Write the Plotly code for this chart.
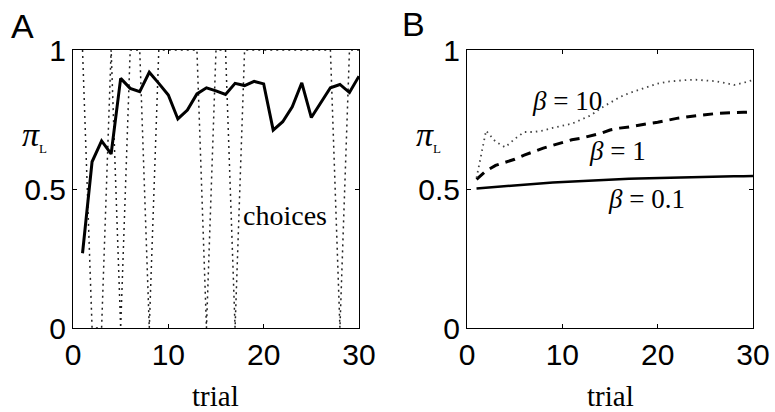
import plotly.graph_objects as go

trials = list(range(1, 31))

# Panel A: probability of choosing L and the choices made (1 = L, 0 = R)
pi_L_A = [0.269, 0.598, 0.673, 0.626, 0.898, 0.862, 0.850, 0.920, 0.880, 0.838,
          0.752, 0.784, 0.842, 0.864, 0.853, 0.840, 0.880, 0.872, 0.887, 0.878,
          0.712, 0.742, 0.796, 0.882, 0.757, 0.811, 0.864, 0.876, 0.847, 0.906]
choices = [1, 0, 0, 1, 0, 1, 1, 0, 1, 1,
           1, 1, 1, 0, 1, 1, 0, 1, 1, 1,
           1, 1, 1, 1, 1, 1, 1, 0, 1, 1]

# Panel B: average pi_L for three values of beta
beta_01 = [0.502, 0.505, 0.508, 0.511, 0.514, 0.516, 0.519, 0.521, 0.523, 0.525,
           0.527, 0.529, 0.531, 0.533, 0.535, 0.536, 0.537, 0.538, 0.539, 0.540,
           0.541, 0.542, 0.543, 0.543, 0.544, 0.545, 0.545, 0.546, 0.546, 0.547]
beta_1 = [0.535, 0.565, 0.585, 0.596, 0.607, 0.622, 0.635, 0.647, 0.657, 0.667,
          0.677, 0.683, 0.692, 0.700, 0.712, 0.719, 0.723, 0.730, 0.735, 0.740,
          0.748, 0.754, 0.759, 0.762, 0.767, 0.771, 0.774, 0.775, 0.776, 0.777]
beta_10 = [0.540, 0.710, 0.670, 0.650, 0.680, 0.705, 0.705, 0.710, 0.720, 0.728,
           0.735, 0.750, 0.765, 0.790, 0.810, 0.830, 0.845, 0.856, 0.868, 0.879,
           0.886, 0.890, 0.892, 0.893, 0.891, 0.888, 0.882, 0.874, 0.882, 0.892]

x_ticks = [0, 10, 20, 30]
y_ticks = [0, 0.5, 1]
y_tick_labels = ["0", "0.5", "1"]

W, H = 775, 412
dom_A = [73 / W, 359 / W]
dom_B = [467 / W, 753 / W]
dom_y = [1 - 328 / H, 1 - 50 / H]

SANS = "Liberation Sans, Arial, sans-serif"
SERIF = "Liberation Serif, Times New Roman, serif"

fig = go.Figure()

fig.add_trace(go.Scatter(x=trials, y=choices, mode="lines",
                         line=dict(color="#222222", width=1.5, dash="2px,4px"),
                         xaxis="x", yaxis="y", showlegend=False))
fig.add_trace(go.Scatter(x=trials, y=pi_L_A, mode="lines",
                         line=dict(color="black", width=3),
                         xaxis="x", yaxis="y", showlegend=False))

fig.add_trace(go.Scatter(x=trials, y=beta_01, mode="lines",
                         line=dict(color="black", width=2.5),
                         xaxis="x2", yaxis="y2", showlegend=False))
fig.add_trace(go.Scatter(x=trials, y=beta_1, mode="lines",
                         line=dict(color="black", width=3, dash="10px,7px"),
                         xaxis="x2", yaxis="y2", showlegend=False))
fig.add_trace(go.Scatter(x=trials, y=beta_10, mode="lines",
                         line=dict(color="#444444", width=1.8, dash="1.5px,4px"),
                         xaxis="x2", yaxis="y2", showlegend=False))

xax = dict(range=[0, 30], tickvals=x_ticks, ticktext=[str(v) for v in x_ticks],
           ticks="inside", ticklen=4, tickcolor="black", showline=True,
           linecolor="black", linewidth=1, mirror="ticks", showgrid=False,
           zeroline=False, automargin=False,
           tickfont=dict(family=SANS, size=30, color="black"))
yax = dict(range=[0, 1], tickvals=y_ticks, ticktext=y_tick_labels, domain=dom_y,
           ticks="inside", ticklen=4, tickcolor="black", showline=True,
           linecolor="black", linewidth=1, mirror="ticks", showgrid=False,
           zeroline=False, automargin=False,
           tickfont=dict(family=SANS, size=30, color="black"))

fig.update_layout(
    width=W, height=H,
    margin=dict(l=0, r=0, t=0, b=0, pad=0, autoexpand=False),
    paper_bgcolor="white", plot_bgcolor="white",
    xaxis=dict(xax, domain=dom_A, anchor="y"),
    yaxis=dict(yax, anchor="x"),
    xaxis2=dict(xax, domain=dom_B, anchor="y2"),
    yaxis2=dict(yax, anchor="x2"),
)

C = dict(xanchor="center", yanchor="middle", showarrow=False)
ann = []
# panel letters
ann.append(dict(C, text="A", x=22 / W, y=1 - 26 / H, xref="paper", yref="paper",
                font=dict(family=SANS, size=34, color="black")))
ann.append(dict(C, text="B", x=413 / W, y=1 - 24 / H, xref="paper", yref="paper",
                font=dict(family=SANS, size=34, color="black")))
# axis titles
for cx in [216, 610]:
    ann.append(dict(C, text="trial", x=cx / W, y=1 - 396 / H, xref="paper", yref="paper",
                    font=dict(family=SERIF, size=29, color="black")))
for cx in [34, 428]:
    ann.append(dict(C, text="<i>π</i><sub><span style='font-size:13px'>L</span></sub>",
                    x=cx / W, y=1 - 136 / H, xref="paper", yref="paper",
                    font=dict(family=SERIF, size=34, color="black")))
# in-plot labels
ann.append(dict(C, text="choices", x=22.2, y=0.406, xref="x", yref="y",
                font=dict(family=SERIF, size=28, color="black")))
ann.append(dict(C, text="<i>β</i> = 10", x=10.5, y=0.817, xref="x2", yref="y2",
                font=dict(family=SERIF, size=27, color="black")))
ann.append(dict(C, text="<i>β</i> = 1", x=15.8, y=0.637, xref="x2", yref="y2",
                font=dict(family=SERIF, size=27, color="black")))
ann.append(dict(C, text="<i>β</i> = 0.1", x=18.8, y=0.464, xref="x2", yref="y2",
                font=dict(family=SERIF, size=27, color="black")))
fig.update_layout(annotations=ann)

fig.write_html("out.html")
